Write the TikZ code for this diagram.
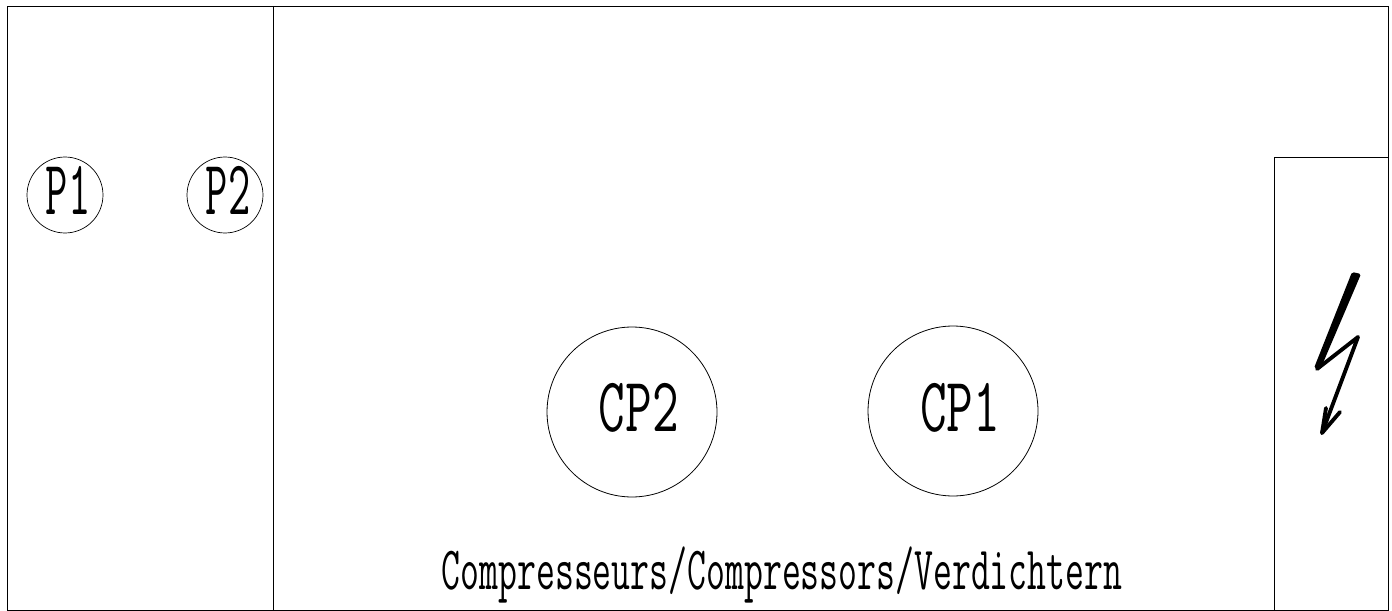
\documentclass[tikz,border=0pt]{standalone}
\usepackage{fontspec}
\newcommand{\narrowtext}[2]{\scalebox{#1}[1]{#2}}
\tikzset{
    wall/.style = {draw = black, line width = 0.45pt},
    pump/.style = {circle, draw = black, line width = 0.4pt, minimum size = 1.52cm, inner sep = 0pt},
    compressor/.style = {circle, draw = black, line width = 0.45pt, minimum size = 3.4cm, inner sep = 0pt},
    pumplabel/.style = {inner sep = 0pt, font = \ttfamily\fontsize{44}{44}\selectfont},
    compressorlabel/.style = {inner sep = 0pt, font = \ttfamily\fontsize{44}{44}\selectfont},
    roomlabel/.style = {inner sep = 0pt, font = \ttfamily\fontsize{35}{35}\selectfont}
}
\begin{document}
\begin{tikzpicture}[x = 0.02cm, y = -0.02cm]
    \useasboundingbox (0, 0) rectangle (1392, 611);
    % walls
    \draw[wall] (7, 6) rectangle (1388, 610);
    \draw[wall] (273, 6) -- (273, 610);
    \draw[wall] (1388, 157) -- (1274, 157) -- (1274, 610);
    % pumps
    \node[pump] (P1) at (65, 195) {};
    \node[pump] (P2) at (225, 195) {};
    \node[pumplabel] at (68, 190) {\narrowtext{0.56}{P1}};
    \node[pumplabel] at (228, 190) {\narrowtext{0.56}{P2}};
    % compressors
    \node[compressor] (CP2) at (632, 412) {};
    \node[compressor] (CP1) at (953, 411) {};
    \node[compressorlabel] at (639, 408) {\narrowtext{0.67}{CP2}};
    \node[compressorlabel] at (960, 408) {\narrowtext{0.67}{CP1}};
    \node[roomlabel] at (782, 575) {\narrowtext{0.597}{Compresseurs/Compressors/Verdichtern}};
    % bolt
    \fill[black, rounded corners = 1pt] (1352, 272) -- (1361, 274) -- (1320, 370) -- (1314, 368) -- cycle;
    \draw[line width = 2.2pt, line join = round, line cap = round] (1317, 369) -- (1358, 337) -- (1322, 433);
    \draw[line width = 2.2pt, line join = round, line cap = round] (1326, 408) -- (1322, 433) -- (1340, 412);
\end{tikzpicture}
\end{document}
